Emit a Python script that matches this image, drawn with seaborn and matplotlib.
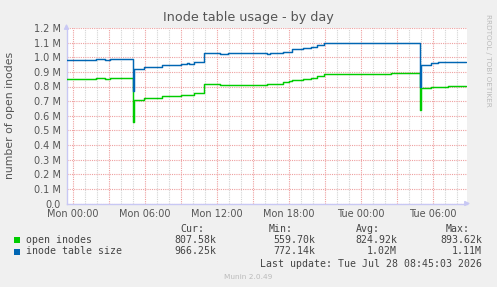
import matplotlib
matplotlib.use("Agg")
import matplotlib.pyplot as plt
import matplotlib.ticker as mticker
from matplotlib.patches import Rectangle
import seaborn as sns

# ---- data (hours since Mon 00:00, values in inodes) ----
hours = [-0.6, 1.9, 2.7, 3.1, 5.0, 5.1, 5.9, 7.4, 9.0, 9.5, 9.7, 10.1, 10.9,
         12.25, 12.9, 16.2, 16.4, 17.5, 18.0, 18.25, 19.2, 19.8, 20.3, 20.9,
         22.0, 22.3, 23.5, 23.8, 26.5, 26.9, 28.9, 29.0, 29.8, 30.4, 30.6,
         31.25, 32.75]
inode_table_size = [0.980e6, 0.986e6, 0.980e6, 0.987e6, 0.772e6, 0.917e6,
                    0.931e6, 0.945e6, 0.954e6, 0.958e6, 0.954e6, 0.966e6,
                    1.028e6, 1.022e6, 1.026e6, 1.022e6, 1.027e6, 1.034e6,
                    1.038e6, 1.054e6, 1.062e6, 1.072e6, 1.084e6, 1.097e6,
                    1.100e6, 1.097e6, 1.100e6, 1.097e6, 1.100e6, 1.099e6,
                    0.800e6, 0.945e6, 0.962e6, 0.966e6, 0.968e6, 0.966e6,
                    0.966e6]
open_inodes = [0.849e6, 0.855e6, 0.850e6, 0.856e6, 0.560e6, 0.705e6,
               0.719e6, 0.732e6, 0.739e6, 0.741e6, 0.739e6, 0.753e6,
               0.815e6, 0.808e6, 0.812e6, 0.815e6, 0.818e6, 0.830e6,
               0.835e6, 0.842e6, 0.848e6, 0.856e6, 0.871e6, 0.885e6,
               0.886e6, 0.885e6, 0.886e6, 0.885e6, 0.891e6, 0.892e6,
               0.640e6, 0.787e6, 0.794e6, 0.794e6, 0.796e6, 0.806e6,
               0.806e6]
x_tick_hours = [0, 6, 12, 18, 24, 30]
x_tick_labels = ["Mon 00:00", "Mon 06:00", "Mon 12:00", "Mon 18:00",
                 "Tue 00:00", "Tue 06:00"]
series_names = ["open inodes", "inode table size"]
series_colors = ["#00CC00", "#0066B3"]
stat_cur = ["807.58k", "966.25k"]
stat_min = ["559.70k", "772.14k"]
stat_avg = ["824.92k", "1.02M"]
stat_max = ["893.62k", "1.11M"]

BG = "#F0F0F0"
W, H = 497, 287
fig = plt.figure(figsize=(W / 100, H / 100), dpi=100, facecolor=BG)
sns.set_style("white")
plt.rcParams["font.family"] = ["DejaVu Sans"]

def fx(px):
    return px / W

def fy(py):
    return 1 - py / H

left, right, top, bottom = 66.5, 467.0, 28.0, 203.5
ax = fig.add_axes([fx(left), fy(bottom), fx(right - left), (bottom - top) / H])
ax.set_facecolor("white")

sns.lineplot(x=hours, y=open_inodes, ax=ax, color=series_colors[0],
             drawstyle="steps-post", linewidth=1.05, estimator=None, zorder=3)
sns.lineplot(x=hours, y=inode_table_size, ax=ax, color=series_colors[1],
             drawstyle="steps-post", linewidth=1.05, estimator=None, zorder=3)

ax.set_xlim((left - 73) / 12, (right - 73) / 12)
ax.set_ylim(0, 1.2e6)

# grids
ax.xaxis.set_major_locator(mticker.MultipleLocator(3))
ax.xaxis.set_minor_locator(mticker.MultipleLocator(1))
lab = dict(zip(x_tick_hours, x_tick_labels))
ax.xaxis.set_major_formatter(mticker.FuncFormatter(
    lambda v, p: lab.get(int(round(v)), "") if abs(v - round(v)) < 1e-6 else ""))
ax.yaxis.set_major_locator(mticker.MultipleLocator(1e5))
ax.yaxis.set_major_formatter(mticker.FuncFormatter(
    lambda v, p: "0.0" if abs(v) < 1 else f"{v / 1e6:.1f} M"))

ax.grid(which="minor", axis="x", color="#D4D4D4", linestyle=(0, (1, 1)),
        linewidth=0.8, zorder=1)
ax.grid(which="major", axis="x", color="#EEA0A0", linestyle=(0, (1, 1)),
        linewidth=0.8, zorder=1)
ax.grid(which="major", axis="y", color="#EEA0A0", linestyle=(0, (1, 1)),
        linewidth=0.8, zorder=1)
ax.set_axisbelow(True)

ax.tick_params(axis="x", which="major", length=2, color="#EE9090",
               labelsize=7, labelcolor="#555555", pad=2)
ax.tick_params(axis="x", which="minor", length=0)
ax.tick_params(axis="y", which="major", length=2, color="#EE9090",
               labelsize=7, labelcolor="#555555", pad=2)

for s in ["top", "right"]:
    ax.spines[s].set_visible(False)
axis_col = "#C8C8F4"
for s in ["left", "bottom"]:
    ax.spines[s].set_color(axis_col)
    ax.spines[s].set_linewidth(1.0)
ax.annotate("", xy=(1.015, 0), xytext=(0.99, 0), xycoords="axes fraction",
            arrowprops=dict(arrowstyle="-|>", color=axis_col, lw=1,
                            mutation_scale=7), annotation_clip=False)
ax.annotate("", xy=(0, 1.04), xytext=(0, 0.98), xycoords="axes fraction",
            arrowprops=dict(arrowstyle="-|>", color=axis_col, lw=1,
                            mutation_scale=7), annotation_clip=False)

ax.set_xlabel("")
ax.set_ylabel("")

# texts
fig.text(fx(248.5), fy(18), "Inode table usage - by day", ha="center",
         va="center", fontsize=9.2, color="#555555")
fig.text(fx(10.5), fy(115.5), "number of open inodes", rotation=90,
         ha="center", va="center", fontsize=7.8, color="#555555")
fig.text(fx(488), fy(60), "RRDTOOL / TOBI OETIKER", rotation=270,
         ha="center", va="center", fontsize=5.2, color="#BBBBBB")

mono = dict(family="DejaVu Sans Mono", fontsize=7.1, color="#444444",
            va="center")
fig.text(fx(204), fy(228.5), "Cur:", ha="right", **mono)
fig.text(fx(293), fy(228.5), "Min:", ha="right", **mono)
fig.text(fx(380), fy(228.5), "Avg:", ha="right", **mono)
fig.text(fx(470), fy(228.5), "Max:", ha="right", **mono)
rows_y = [240, 251.5]
for i in range(2):
    y = rows_y[i]
    fig.patches.append(Rectangle((fx(13.5), fy(y + 3)), fx(6), 6 / H,
                                 transform=fig.transFigure,
                                 facecolor=series_colors[i], edgecolor="none"))
    fig.text(fx(26), fy(y), series_names[i], ha="left", **mono)
    fig.text(fx(216.5), fy(y), stat_cur[i], ha="right", **mono)
    fig.text(fx(315.5), fy(y), stat_min[i], ha="right", **mono)
    fig.text(fx(397), fy(y), stat_avg[i], ha="right", **mono)
    fig.text(fx(482), fy(y), stat_max[i], ha="right", **mono)
fig.text(fx(482), fy(264), "Last update: Tue Jul 28 08:45:03 2026",
         ha="right", **mono)
fig.text(fx(248.5), fy(277), "Munin 2.0.49", ha="center", va="center",
         fontsize=5.3, color="#BBBBBB")

fig.savefig("out.png", dpi=100, facecolor=BG)
